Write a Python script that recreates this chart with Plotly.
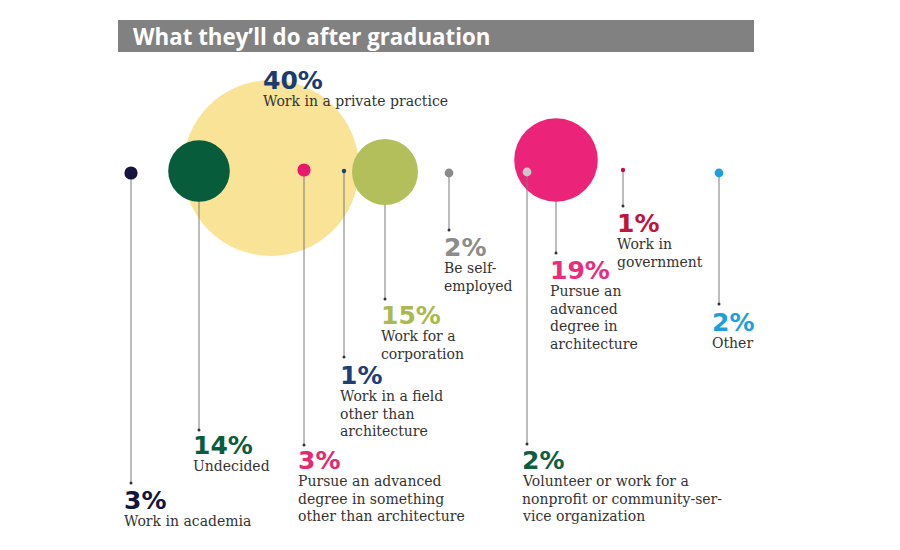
import plotly.graph_objects as go

# ---- data ----
title_text = "What they\u2019ll do after graduation"
values = [3, 14, 40, 3, 1, 15, 2, 19, 2, 1, 2]
pct_labels = ["3%", "14%", "40%", "3%", "1%", "15%", "2%", "19%", "2%", "1%", "2%"]
descriptions = [
    ["Work in academia"],
    ["Undecided"],
    ["Work in a private practice"],
    ["Pursue an advanced", "degree in something", "other than architecture"],
    ["Work in a field", "other than", "architecture"],
    ["Work for a", "corporation"],
    ["Be self-", "employed"],
    ["Pursue an", "advanced", "degree in", "architecture"],
    ["Volunteer or work for a", "nonprofit or community-ser-", "vice organization"],
    ["Work in", "government"],
    ["Other"],
]
dot_colors = ["#15153d", "#065c3b", "#f9e397", "#e8196a", "#1c3f7a", "#b3bf5a",
              "#8a8a8a", "#ec2479", "#c9c9c9", "#c0143c", "#1e9fdc"]
pct_colors = ["#15153d", "#0b5c3d", "#1a3c70", "#e8286e", "#1c3f7a", "#a9b94f",
              "#8c8c8c", "#ea2c7c", "#0f5e3e", "#c0143c", "#1e9fdc"]

# ---- layout positions (pixels) ----
cx = [131, 199, 271, 304, 344, 385, 449, 556, 527, 623, 719]
cy = [173, 171, 168, 170, 171, 172, 173, 160, 172, 170, 173]
line_end = [483, 430, 113, 445, 357, 299, 230, 253, 444, 206, 304]
label_x = [124, 193, 263, 298, 340, 381, 444, 550, 522, 617, 712]
pct_top = [490, 435, 70, 450, 365, 305, 237, 260, 450, 213, 312]
draw_order = [2, 0, 1, 3, 4, 5, 6, 7, 8, 9, 10]

PX_PER_PCT = 4.4  # circle diameter per percentage point
PCT_FONT = "DejaVu Sans"
DESC_FONT = "DejaVu Serif"
PCT_SIZE = 25
DESC_SIZE = 14
LINE_GAP = 17.6
X_PAD = 2

fig = go.Figure()

for i in draw_order:
    y_low = max(cy[i], line_end[i])
    fig.add_trace(go.Scatter(
        x=[cx[i], cx[i]], y=[cy[i], line_end[i]], mode="lines",
        line=dict(color="#7a7a7a", width=1), hoverinfo="skip", showlegend=False))
    fig.add_trace(go.Scatter(
        x=[cx[i]], y=[y_low], mode="markers",
        marker=dict(size=3, color="#333333", line=dict(width=0)),
        hoverinfo="skip", showlegend=False))
    fig.add_trace(go.Scatter(
        x=[cx[i]], y=[cy[i]], mode="markers",
        marker=dict(size=values[i] * PX_PER_PCT, sizemode="diameter",
                    color=dot_colors[i], line=dict(width=0), opacity=1),
        hovertext=f"{pct_labels[i]} {' '.join(descriptions[i])}",
        hoverinfo="text", showlegend=False))

annotations = []
for i in range(len(values)):
    annotations.append(dict(
        x=label_x[i] - X_PAD, y=pct_top[i] - 6, xref="x", yref="y",
        xanchor="left", yanchor="top", showarrow=False,
        text=f"<b>{pct_labels[i]}</b>",
        font=dict(family=PCT_FONT, size=PCT_SIZE, color=pct_colors[i])))
    for k, line in enumerate(descriptions[i]):
        annotations.append(dict(
            x=label_x[i] - X_PAD, y=pct_top[i] + 25 + k * LINE_GAP - 4, xref="x", yref="y",
            xanchor="left", yanchor="top", showarrow=False, text=line,
            font=dict(family=DESC_FONT, size=DESC_SIZE, color="#333333")))

annotations.append(dict(
    x=131, y=36.5, xref="x", yref="y", xanchor="left", yanchor="middle",
    showarrow=False, text=f"<b>{title_text}</b>",
    font=dict(family="Open Sans", size=22.3, color="#ffffff")))

fig.update_layout(
    width=900, height=550, autosize=False,
    margin=dict(l=0, r=0, t=0, b=0),
    paper_bgcolor="#ffffff", plot_bgcolor="#ffffff",
    xaxis=dict(range=[0, 900], visible=False, fixedrange=True),
    yaxis=dict(range=[550, 0], visible=False, fixedrange=True),
    shapes=[dict(type="rect", xref="x", yref="y", x0=118, x1=754, y0=20, y1=52,
                 fillcolor="#818181", line=dict(width=0), layer="below")],
    annotations=annotations,
)

fig.write_html("out.html")
